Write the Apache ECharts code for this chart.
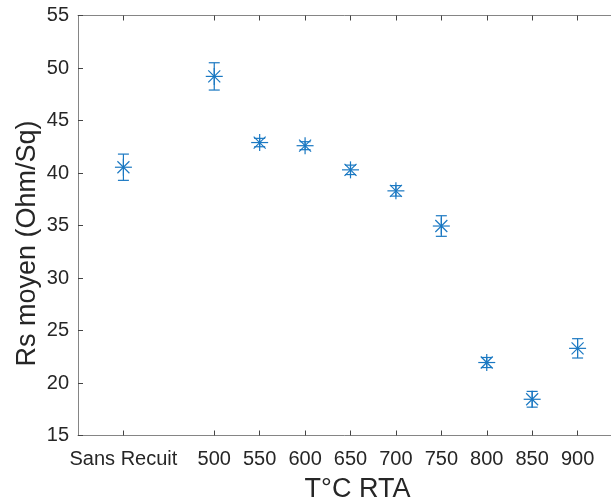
<!DOCTYPE html>
<html>
<head>
<meta charset="utf-8">
<script src="https://cdn.jsdelivr.net/npm/echarts@6/dist/echarts.min.js"></script>
<style>html,body{margin:0;padding:0;background:#fff;}#c{width:611px;height:499px;}</style>
</head>
<body>
<div id="c"></div>
<script>
const categories = ['Sans Recuit', '500', '550', '600', '650', '700', '750', '800', '850', '900'];
const xPositions = [400, 500, 550, 600, 650, 700, 750, 800, 850, 900];
const rsMean = [40.55, 49.2, 42.9, 42.6, 40.3, 38.3, 34.95, 21.95, 18.45, 23.3];
const rsErr = [1.25, 1.3, 0.4, 0.38, 0.45, 0.5, 0.98, 0.48, 0.75, 0.92];
const yTicks = [15, 20, 25, 30, 35, 40, 45, 50, 55];

const labelMap = {};
xPositions.forEach((v, i) => { labelMap[v] = categories[i]; });
const data = xPositions.map((x, i) => [x, rsMean[i], rsErr[i]]);

const col = '#1a78c2';
const chart = echarts.init(document.getElementById('c'), null, {renderer: 'canvas'});
const txt = '#262626';
chart.setOption({
  animation: false,
  grid: {left: 78, top: 15.5, width: 545, height: 420, containLabel: false, outerBoundsMode: 'none'},
  xAxis: [{
    type: 'value', min: 350, max: 950, position: 'bottom',
    name: 'T°C RTA', nameLocation: 'middle', nameGap: 41, nameMoveOverlap: false,
    nameTextStyle: {fontFamily: 'Liberation Sans', fontSize: 27, color: txt, padding: [0, 0, 0, 14]},
    axisLine: {show: true, onZero: false, lineStyle: {color: '#858585', width: 1}},
    axisTick: {show: true, inside: true, length: 5, customValues: xPositions, lineStyle: {color: '#444'}},
    axisLabel: {customValues: xPositions, margin: 14, fontFamily: 'Liberation Sans', fontSize: 20, color: txt,
      formatter: v => labelMap[v] || ''},
    splitLine: {show: false}
  }, {
    type: 'value', min: 350, max: 950, position: 'top',
    axisLine: {show: true, onZero: false, lineStyle: {color: '#858585', width: 1}},
    axisTick: {show: true, inside: true, length: 5, customValues: xPositions, lineStyle: {color: '#444'}},
    axisLabel: {show: false},
    splitLine: {show: false}
  }],
  yAxis: {
    type: 'value', min: 15, max: 55, interval: 5,
    name: 'Rs moyen (Ohm/Sq)', nameLocation: 'middle', nameGap: 37, nameMoveOverlap: false,
    nameTextStyle: {fontFamily: 'Liberation Sans', fontSize: 27, color: txt, padding: [0, 36, 0, 0]},
    axisLine: {show: true, onZero: false, lineStyle: {color: '#858585', width: 1}},
    axisTick: {show: true, inside: true, length: 5, lineStyle: {color: '#444'}},
    axisLabel: {margin: 9, fontFamily: 'Liberation Sans', fontSize: 20, color: txt},
    splitLine: {show: false}
  },
  series: [{
    type: 'custom',
    xAxisIndex: 0,
    encode: {x: 0, y: 1},
    data: data,
    renderItem: function (params, api) {
      const x = api.value(0), y = api.value(1), e = api.value(2);
      const p = api.coord([x, y]);
      const t = api.coord([x, y + e]);
      const b = api.coord([x, y - e]);
      const cap = 5.5, r = 8.5, d = 6;
      const st = {stroke: col, lineWidth: 1.2, fill: null};
      const ln = (x1, y1, x2, y2) => ({type: 'line', shape: {x1, y1, x2, y2}, style: st});
      return {
        type: 'group',
        children: [
          ln(t[0], t[1], b[0], b[1]),
          ln(t[0] - cap, t[1], t[0] + cap, t[1]),
          ln(b[0] - cap, b[1], b[0] + cap, b[1]),
          ln(p[0] - r, p[1], p[0] + r, p[1]),
          ln(p[0], p[1] - r, p[0], p[1] + r),
          ln(p[0] - d, p[1] - d, p[0] + d, p[1] + d),
          ln(p[0] - d, p[1] + d, p[0] + d, p[1] - d)
        ]
      };
    }
  }]
});
</script>
</body>
</html>
